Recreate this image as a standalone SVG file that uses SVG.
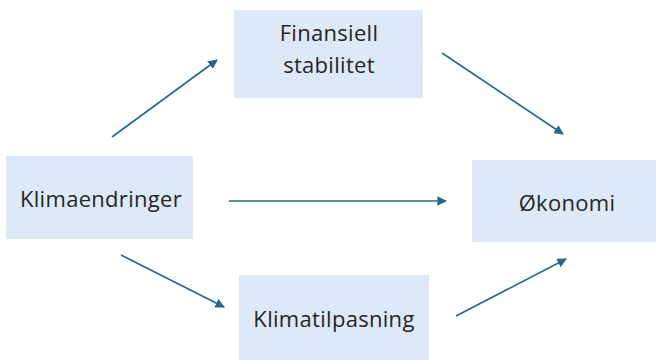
<svg xmlns="http://www.w3.org/2000/svg" width="656" height="360" viewBox="0 0 656 360">
  <defs>
    <style>
      .box { fill: #dde9f6; }
      .lbl { font-family: "Open Sans", "Noto Sans", "Liberation Sans", sans-serif; font-size: 22px; letter-spacing: 0.3px; fill: #262626; text-anchor: middle; }
      .arr { stroke: #23698a; stroke-width: 1.6; fill: none; marker-end: url(#head); }
    </style>
    <marker id="head" viewBox="0 0 10 10" refX="9" refY="5" markerWidth="6" markerHeight="6" orient="auto" markerUnits="strokeWidth">
      <path d="M0,0 L10,5 L0,10 Z" fill="#23698a"/>
    </marker>
  </defs>
  <rect width="656" height="360" fill="#ffffff"/>

  <g id="klimaendringer">
    <rect class="box" x="6" y="156" width="187" height="83"/>
    <text class="lbl" x="101" y="207">Klimaendringer</text>
  </g>
  <g id="finansiell-stabilitet">
    <rect class="box" x="234" y="10" width="189" height="88"/>
    <text class="lbl" x="329" y="41">Finansiell</text>
    <text class="lbl" x="329" y="73">stabilitet</text>
  </g>
  <g id="okonomi">
    <rect class="box" x="472" y="160" width="184" height="82"/>
    <text class="lbl" x="567" y="211">Økonomi</text>
  </g>
  <g id="klimatilpasning">
    <rect class="box" x="239" y="275" width="190" height="85"/>
    <text class="lbl" x="334" y="327">Klimatilpasning</text>
  </g>

  <g id="connectors">
    <line class="arr" x1="112" y1="137" x2="217" y2="60"/>
    <line class="arr" x1="442" y1="53" x2="563" y2="134"/>
    <line class="arr" x1="229" y1="201" x2="446" y2="201"/>
    <line class="arr" x1="121" y1="255" x2="224" y2="307"/>
    <line class="arr" x1="456" y1="316" x2="566" y2="259"/>
  </g>
</svg>
